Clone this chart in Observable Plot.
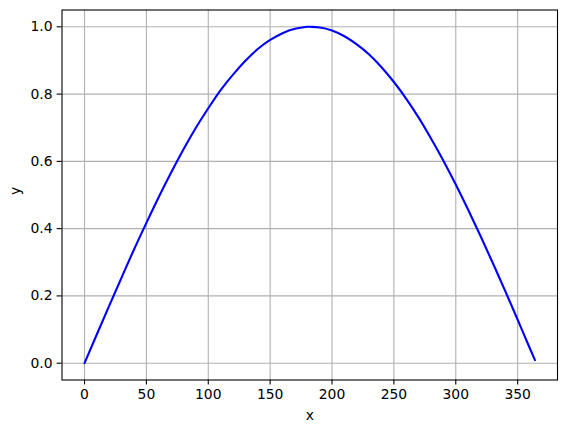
<!DOCTYPE html>
<html>
<head>
<meta charset="utf-8">
<script src="https://cdn.jsdelivr.net/npm/d3@7"></script>
<script src="https://cdn.jsdelivr.net/npm/@observablehq/plot@0.6"></script>
<style>
  html, body { margin: 0; padding: 0; background: #fff; }
</style>
</head>
<body>
<div id="chart"></div>
<script>
const xValues = [0, 10, 20, 30, 40, 50, 60, 70, 80, 90, 100, 110, 120, 130, 140, 150, 160, 170, 180, 182, 190, 200, 210, 220, 230, 240, 250, 260, 270, 280, 290, 300, 310, 320, 330, 340, 350, 360, 364];
const yValues = [0.000, 0.086, 0.171, 0.255, 0.338, 0.417, 0.494, 0.567, 0.636, 0.700, 0.758, 0.812, 0.858, 0.899, 0.934, 0.961, 0.981, 0.994, 1.000, 1.000, 0.998, 0.989, 0.972, 0.948, 0.918, 0.880, 0.836, 0.786, 0.730, 0.668, 0.602, 0.531, 0.456, 0.378, 0.297, 0.214, 0.129, 0.043, 0.009];
const xTicks = [0, 50, 100, 150, 200, 250, 300, 350];
const yTicks = [0.0, 0.2, 0.4, 0.6, 0.8, 1.0];
const xLabel = "x";
const yLabel = "y";

const data = xValues.map((x, i) => ({x, y: yValues[i]}));
const fs = 13.9;

const chart = Plot.plot({
  width: 567,
  height: 432,
  marginLeft: 61.5,
  marginRight: 10,
  marginTop: 9.5,
  marginBottom: 52.5,
  style: {fontFamily: "DejaVu Sans", fontSize: "13.9px", color: "#000", background: "#fff"},
  x: {domain: [-18.2, 382.2]},
  y: {domain: [-0.05, 1.05]},
  marks: [
    Plot.gridX(xTicks, {stroke: "#b0b0b0", strokeOpacity: 1, strokeWidth: 1.1}),
    Plot.gridY(yTicks, {stroke: "#b0b0b0", strokeOpacity: 1, strokeWidth: 1.1}),
    Plot.line(data, {x: "x", y: "y", stroke: "blue", strokeWidth: 2.1, curve: "natural"}),
    Plot.frame({stroke: "#000", strokeWidth: 1.1}),
    Plot.axisX(xTicks, {tickSize: 4.9, tickPadding: 4.5, strokeWidth: 1.1, label: null, fontSize: fs, tickFormat: d3.format("d")}),
    Plot.axisY(yTicks, {tickSize: 4.9, tickPadding: 4.5, strokeWidth: 1.1, label: null, fontSize: fs, tickFormat: d3.format(".1f")}),
    Plot.text([xLabel], {frameAnchor: "bottom", dy: 36, lineAnchor: "middle", fontSize: fs, text: d => d, fill: "#000"}),
    Plot.text([yLabel], {frameAnchor: "left", dx: -46, rotate: -90, lineAnchor: "middle", fontSize: fs, text: d => d, fill: "#000"})
  ]
});
document.getElementById("chart").appendChild(chart);
</script>
</body>
</html>
